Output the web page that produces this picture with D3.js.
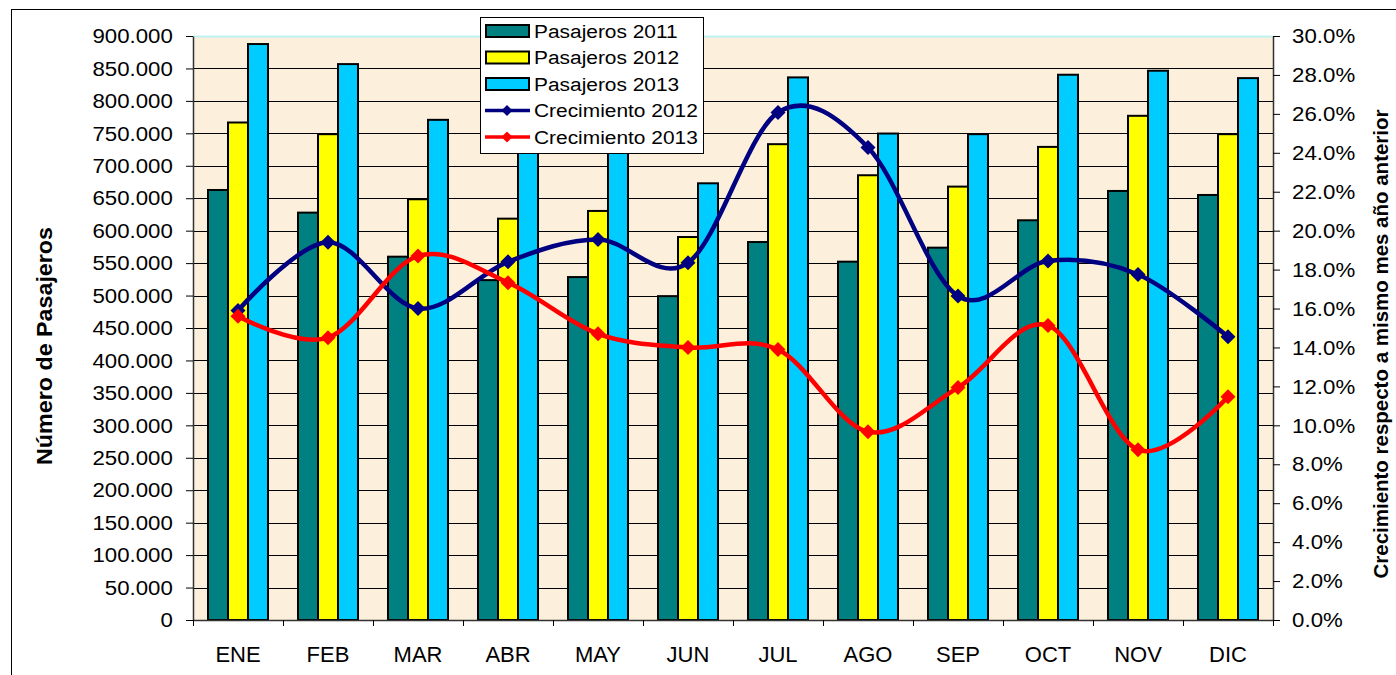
<!DOCTYPE html>
<html>
<head>
<meta charset="utf-8">
<script src="https://cdn.jsdelivr.net/npm/d3@7"></script>
<style>
  body { margin: 0; background: #fff; }
  svg { display: block; font-family: Arial, "Liberation Sans", sans-serif; }
</style>
</head>
<body>
<svg id="chart" width="1396" height="675"></svg>
<script>
const months = ['ENE', 'FEB', 'MAR', 'ABR', 'MAY', 'JUN', 'JUL', 'AGO', 'SEP', 'OCT', 'NOV', 'DIC']
const pas2011 = [662700, 627800, 559900, 523800, 528500, 499100, 582500, 552200, 573800, 616000, 661200, 655000]
const pas2012 = [766700, 748700, 648400, 618500, 630400, 590200, 733300, 685400, 667900, 729100, 777000, 748700]
const pas2013 = [887600, 856700, 770800, 725500, 723000, 673000, 836200, 749700, 748700, 840300, 846500, 835100]
const crec2012 = [0.159, 0.194, 0.16, 0.184, 0.1955, 0.1835, 0.2607, 0.2427, 0.1664, 0.1844, 0.1775, 0.1455]
const crec2013 = [0.156, 0.145, 0.187, 0.1733, 0.147, 0.14, 0.139, 0.0967, 0.1194, 0.1513, 0.0875, 0.1147]
const leftTicks = d3.range(0, 900001, 50000)
const rightTicks = d3.range(0, 0.3001, 0.02)

const barSeries = [
  { name: 'Pasajeros 2011', values: pas2011, color: '#008080' },
  { name: 'Pasajeros 2012', values: pas2012, color: '#ffff00' },
  { name: 'Pasajeros 2013', values: pas2013, color: '#00ccff' },
]
const lineSeries = [
  { name: 'Crecimiento 2012', values: crec2012, color: '#000080' },
  { name: 'Crecimiento 2013', values: crec2013, color: '#ff0000' },
]

const plot = { left: 193, right: 1273, top: 36, bottom: 620 }
const svg = d3.select('#chart')

// outer frame (runs off the right and bottom edges)
svg.append('rect')
  .attr('x', 11.5).attr('y', 9.5)
  .attr('width', 1400).attr('height', 675)
  .attr('fill', '#fff').attr('stroke', '#000')

const x = d3.scaleBand().domain(months).range([plot.left, plot.right])
const xInner = d3.scaleBand().domain(barSeries.map((s) => s.name)).range([15, 75])
const yL = d3.scaleLinear().domain([0, 900000]).range([plot.bottom, plot.top])
const yR = d3.scaleLinear().domain([0, 0.3]).range([plot.bottom, plot.top])

svg.append('rect')
  .attr('x', plot.left).attr('y', plot.top)
  .attr('width', plot.right - plot.left).attr('height', plot.bottom - plot.top)
  .attr('fill', '#fcefdb')
svg.append('line')
  .attr('x1', plot.left).attr('x2', plot.right)
  .attr('y1', plot.top + 0.5).attr('y2', plot.top + 0.5)
  .attr('stroke', '#bff2f2').attr('stroke-width', 2)

// gridlines
svg.append('g')
  .selectAll('line')
  .data(leftTicks.filter((d) => d > 0 && d < 900000))
  .join('line')
  .attr('x1', plot.left).attr('x2', plot.right)
  .attr('y1', (d) => Math.round(yL(d)) + 0.5)
  .attr('y2', (d) => Math.round(yL(d)) + 0.5)
  .attr('stroke', '#000').attr('stroke-width', 1)

// bars
const groups = svg.append('g')
  .selectAll('g')
  .data(months)
  .join('g')
  .attr('transform', (m) => `translate(${x(m)},0)`)

groups.selectAll('rect')
  .data((m, i) => barSeries.map((s) => ({ s, v: s.values[i] })))
  .join('rect')
  .attr('x', (d) => xInner(d.s.name))
  .attr('width', xInner.bandwidth())
  .attr('y', (d) => yL(d.v))
  .attr('height', (d) => plot.bottom - yL(d.v))
  .attr('fill', (d) => d.s.color)
  .attr('stroke', '#000')
  .attr('stroke-width', 2)

// growth lines
const line = d3.line()
  .x((d, i) => x(months[i]) + x.bandwidth() / 2)
  .y((d) => yR(d))
  .curve(d3.curveCatmullRom.alpha(0))

const diamond = (r) => `M0,${-r}L${r},0L0,${r}L${-r},0Z`

lineSeries.forEach((s) => {
  svg.append('path')
    .datum(s.values)
    .attr('d', line)
    .attr('fill', 'none')
    .attr('stroke', s.color)
    .attr('stroke-width', 4.5)
  svg.append('g')
    .selectAll('path')
    .data(s.values)
    .join('path')
    .attr('transform', (d, i) => `translate(${x(months[i]) + x.bandwidth() / 2},${yR(d)})`)
    .attr('d', diamond(7.5))
    .attr('fill', s.color)
})

// axes
const fmtL = (d) => (d === 0 ? '0' : d3.format(',')(d).replace(/,/g, '.'))
const axL = svg.append('g')
  .attr('transform', `translate(${plot.left},0)`)
  .call(d3.axisLeft(yL).tickValues(leftTicks).tickFormat(fmtL).tickSize(7).tickSizeOuter(0).tickPadding(12))
const axR = svg.append('g')
  .attr('transform', `translate(${plot.right},0)`)
  .call(d3.axisRight(yR).tickValues(rightTicks).tickFormat(d3.format('.1%')).tickSize(7).tickSizeOuter(0).tickPadding(11))
const xEdges = d3.scaleLinear().domain([0, months.length]).range([plot.left, plot.right])
const axB = svg.append('g')
  .attr('transform', `translate(0,${plot.bottom})`)
  .call(d3.axisBottom(xEdges).tickValues(d3.range(months.length + 1)).tickFormat('').tickSize(6).tickSizeOuter(0))
const axLabels = svg.append('g')
  .attr('transform', `translate(0,${plot.bottom})`)
  .call(d3.axisBottom(x).tickSize(0).tickPadding(26))
axLabels.select('.domain').remove()

;[axL, axR, axB, axLabels].forEach((g) => {
  g.select('.domain').attr('stroke', '#333').attr('stroke-width', 1.5)
  g.selectAll('.tick line').attr('stroke', '#000')
  g.selectAll('text').attr('fill', '#000').attr('font-family', 'Arial, "Liberation Sans", sans-serif')
})
axL.selectAll('text').attr('font-size', 21).attr('transform', 'scale(1.06,1)')
axR.selectAll('text').attr('font-size', 21).attr('transform', 'scale(1.06,1)')
axLabels.selectAll('text').attr('font-size', 22)

// axis titles
svg.append('text')
  .attr('transform', 'translate(44,346) rotate(-90)')
  .attr('text-anchor', 'middle').attr('dy', '0.35em')
  .attr('font-size', 22).attr('font-weight', 'bold')
  .attr('textLength', 238).attr('lengthAdjust', 'spacingAndGlyphs')
  .text('Número de Pasajeros')
svg.append('text')
  .attr('transform', 'translate(1381,344) rotate(-90)')
  .attr('text-anchor', 'middle').attr('dy', '0.35em')
  .attr('font-size', 20).attr('font-weight', 'bold')
  .attr('textLength', 469).attr('lengthAdjust', 'spacingAndGlyphs')
  .text('Crecimiento respecto a mismo mes año anterior')

// legend
const legend = svg.append('g')
legend.append('rect')
  .attr('x', 480.5).attr('y', 17.5)
  .attr('width', 223).attr('height', 136)
  .attr('fill', '#fff').attr('stroke', '#000')
const rowY = (i) => 31 + i * 26.5
const items = barSeries.map((s) => ({ ...s, type: 'bar' }))
  .concat(lineSeries.map((s) => ({ ...s, type: 'line' })))
const rows = legend.selectAll('g.row')
  .data(items)
  .join('g')
  .attr('class', 'row')
  .attr('transform', (d, i) => `translate(0,${rowY(i)})`)
rows.filter((d) => d.type === 'bar')
  .append('rect')
  .attr('x', 486).attr('y', -6)
  .attr('width', 43).attr('height', 12)
  .attr('fill', (d) => d.color)
  .attr('stroke', '#000').attr('stroke-width', 2)
rows.filter((d) => d.type === 'line')
  .append('line')
  .attr('x1', 485).attr('x2', 530)
  .attr('stroke', (d) => d.color).attr('stroke-width', 3.5)
rows.filter((d) => d.type === 'line')
  .append('path')
  .attr('transform', 'translate(507,0)')
  .attr('d', diamond(5.5))
  .attr('fill', (d) => d.color)
rows.append('text')
  .attr('transform', 'translate(534,0) scale(1.1,1)')
  .attr('dy', '0.36em')
  .attr('font-size', 19)
  .text((d) => d.name)
</script>
</body>
</html>
